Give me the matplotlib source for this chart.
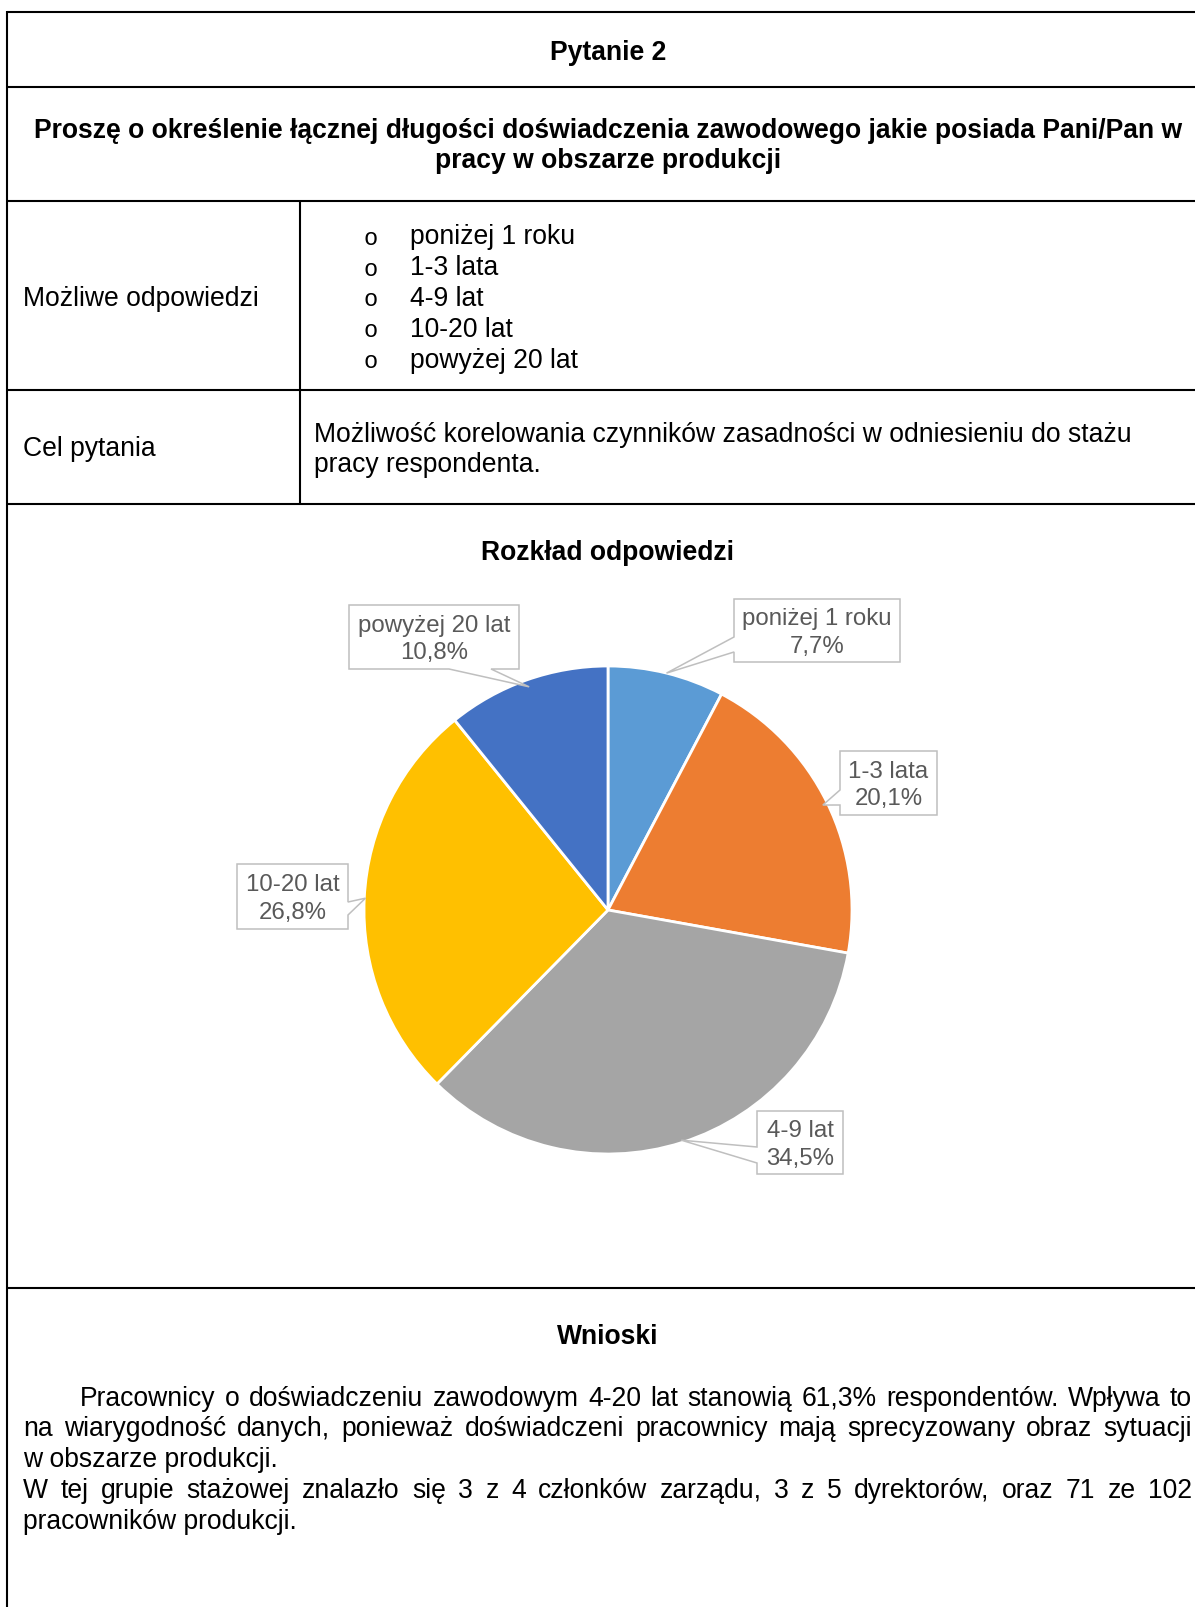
import numpy as np
import matplotlib.pyplot as plt
from matplotlib.patches import Polygon

plt.rcParams['font.family'] = ['Liberation Sans', 'DejaVu Sans']

# survey answers (share of respondents, %)
categories = ['poniżej 1 roku', '1-3 lata', '4-9 lat', '10-20 lat', 'powyżej 20 lat']
shares = [7.7, 20.1, 34.5, 26.8, 10.8]
colors = ['#5B9BD5', '#ED7D31', '#A5A5A5', '#FFC000', '#4472C4']

question_no = 'Pytanie 2'
question = ['Proszę o określenie łącznej długości doświadczenia zawodowego jakie posiada Pani/Pan w',
            'pracy w obszarze produkcji']
purpose = ['Możliwość korelowania czynników zasadności w odniesieniu do stażu',
           'pracy respondenta.']

W, H = 1195, 1607
fs = 19.1
fs_lab = 17.3
dy = 2.5  # nudge text centres down a little

fig = plt.figure(figsize=(W / 100, H / 100), dpi=100)
ax = fig.add_axes([0, 0, 1, 1])


def Y(yp):
    return H - yp


def put(x, yp, s, **kw):
    kw.setdefault('fontsize', fs)
    kw.setdefault('va', 'center')
    return ax.text(x, Y(yp + dy), s, **kw)


# table grid
lw = 1.5
for yp in [12, 87, 201, 390, 504, 1288]:
    ax.plot([7, W], [Y(yp), Y(yp)], color='black', lw=lw, solid_capstyle='butt')
ax.plot([7.5, 7.5], [Y(11.3), 0], color='black', lw=lw, solid_capstyle='butt')
ax.plot([300, 300], [Y(201), Y(504)], color='black', lw=lw, solid_capstyle='butt')

put(608, 50, question_no, fontweight='bold', ha='center')
put(608, 129, question[0], fontweight='bold', ha='center')
put(608, 159, question[1], fontweight='bold', ha='center')

put(23, 296, 'Możliwe odpowiedzi', ha='left')
for i, cat in enumerate(categories):
    yp = 235 + i * 30.75
    put(364, yp + 1, 'o', fontsize=17, family='Liberation Mono', ha='left')
    put(410, yp, cat, ha='left')

put(23, 447, 'Cel pytania', ha='left')
put(314, 432, purpose[0], ha='left')
put(314, 462, purpose[1], ha='left')

# pie chart
put(608, 550, 'Rozkład odpowiedzi', fontweight='bold', ha='center')
cx, cy, r = 608, 910, 244
wedges, _ = ax.pie(shares, colors=colors, startangle=90, counterclock=False,
                   center=(cx, Y(cy)), radius=r,
                   wedgeprops=dict(edgecolor='white', linewidth=2.0))

# callout boxes: (x0, y0, x1, y1, side, base start, base end)
boxes = [
    (734, 599, 900, 662, 'left', 637, 652),
    (840, 751, 937, 815, 'left', 790, 805),
    (757, 1111, 843, 1174, 'left', 1147, 1163),
    (237, 864, 348, 929, 'right', 902, 915),
    (349, 605, 519, 669, 'bottom', 449, 491),
]
tip_r = [1.0, 0.98, 0.99, 0.995, 0.97]

for w, cat, val, box, tr in zip(wedges, categories, shares, boxes, tip_r):
    x0, y0, x1, y1, side, b1, b2 = box
    mid = np.deg2rad((w.theta1 + w.theta2) / 2)
    tx = cx + tr * r * np.cos(mid)
    ty = cy - tr * r * np.sin(mid)
    if side == 'left':
        pts = [(x0, y0), (x1, y0), (x1, y1), (x0, y1), (x0, b2), (tx, ty), (x0, b1)]
    elif side == 'right':
        pts = [(x0, y0), (x1, y0), (x1, b1), (tx, ty), (x1, b2), (x1, y1), (x0, y1)]
    else:
        pts = [(x0, y0), (x1, y0), (x1, y1), (b2, y1), (tx, ty), (b1, y1), (x0, y1)]
    ax.add_patch(Polygon([(px, Y(py)) for px, py in pts], closed=True,
                         facecolor='white', edgecolor='#BFBFBF', lw=1.1, zorder=5))
    label = f'{cat}\n{val:.1f}%'.replace('.', ',')
    put((x0 + x1) / 2, (y0 + y1) / 2, label, fontsize=fs_lab, color='#595959',
        ha='center', multialignment='center', linespacing=1.35, zorder=6)

# conclusions
put(608, 1334, 'Wnioski', fontweight='bold', ha='center')

group_share = f'{shares[2] + shares[3]:.1f}'.replace('.', ',')
paragraph = [
    (f'Pracownicy o doświadczeniu zawodowym 4-20 lat stanowią {group_share}% respondentów. Wpływa to', 80, True),
    ('na wiarygodność danych, ponieważ doświadczeni pracownicy mają sprecyzowany obraz sytuacji', 23, True),
    ('w obszarze produkcji.', 23, False),
    ('W tej grupie stażowej znalazło się 3 z 4 członków zarządu, 3 z 5 dyrektorów, oraz 71 ze 102', 23, True),
    ('pracowników produkcji.', 23, False),
]
renderer = fig.canvas.get_renderer()
right = 1192
for i, (line, x_start, justify) in enumerate(paragraph):
    yp = 1396 + i * 30.8
    if not justify:
        put(x_start, yp, line, ha='left')
        continue
    words = line.split(' ')
    texts = [put(0, yp, wd, ha='left') for wd in words]
    widths = [t.get_window_extent(renderer).width for t in texts]
    gap = (right - x_start - sum(widths)) / (len(words) - 1)
    x = x_start
    for t, wd in zip(texts, widths):
        t.set_x(x)
        x += wd + gap

ax.set_xlim(0, W)
ax.set_ylim(0, H)
ax.set_aspect('auto')
ax.axis('off')

fig.savefig('out.png', dpi=100, facecolor='white')
